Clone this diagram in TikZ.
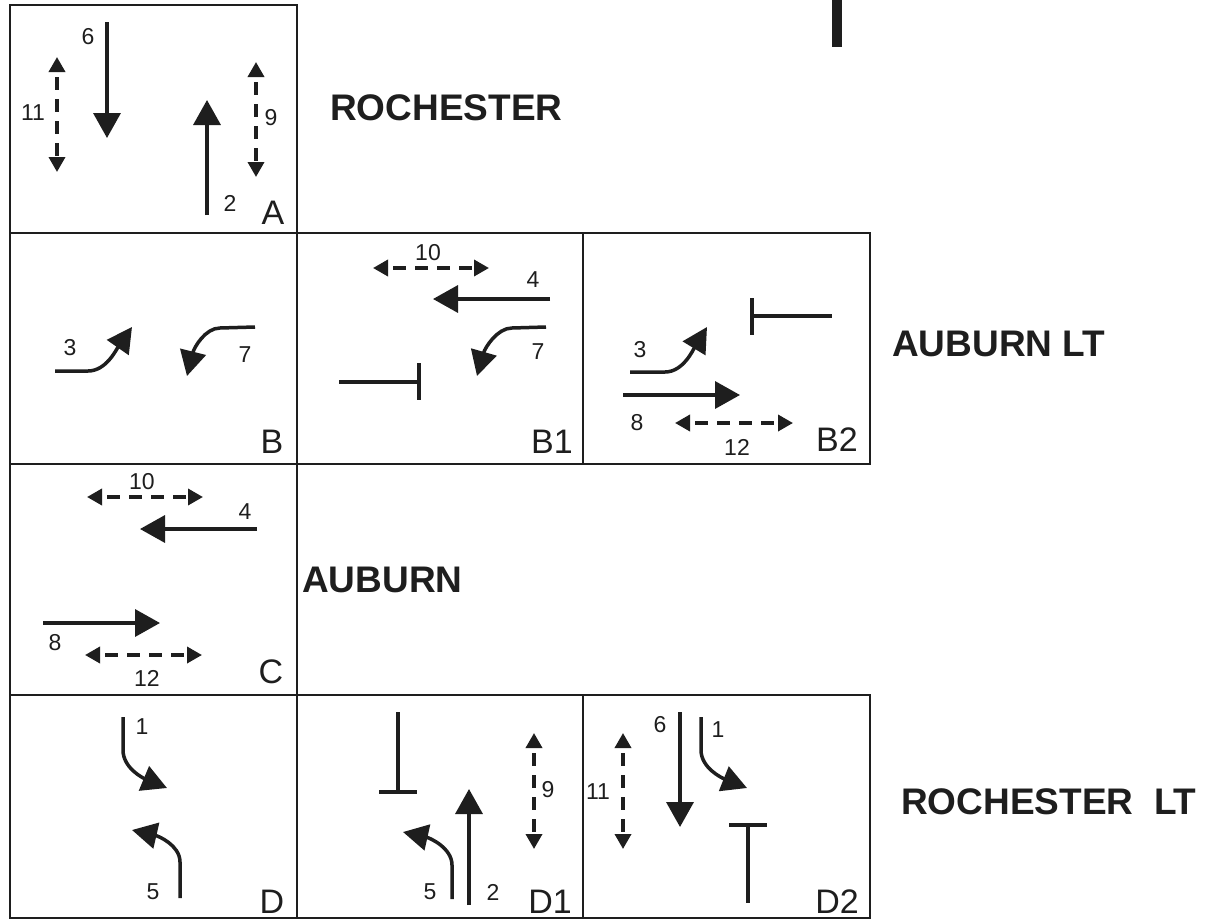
\documentclass[tikz,border=0pt]{standalone}
\usepackage{fontspec}
\setmainfont{Liberation Sans}
\usetikzlibrary{arrows.meta}
\definecolor{ink}{RGB}{30,30,30}
\tikzset{
 panel/.style={draw=ink, line width=1.8pt},
 mv/.style={draw=ink, line width=3.5pt, -{Triangle[width=27pt,length=25pt]}},
 turn/.style={draw=ink, line width=3.5pt, -{Triangle[width=26pt,length=25pt]}},
 ped/.style={draw=ink, line width=3.5pt, dash pattern=on 13pt off 9pt, dash phase=16pt,
   {Triangle[width=16pt,length=15pt]}-{Triangle[width=16pt,length=15pt]}},
 stopbar/.style={draw=ink, line width=3.8pt},
 num/.style={text=ink, inner sep=0pt, font=\fontsize{23}{23}\selectfont},
 plabel/.style={text=ink, inner sep=0pt, font=\fontsize{34}{34}\selectfont},
 title/.style={text=ink, inner sep=0pt, anchor=west, font=\fontsize{37}{37}\selectfont\bfseries},
}
\begin{document}
\begin{tikzpicture}[x=1pt,y=-1pt]
\useasboundingbox (0,0) rectangle (1213,921);
\fill[white] (0,0) rectangle (1213,921);
% top bar
\fill[ink] (832,0) rectangle (842,47);
% panels
\draw[panel] (10,5) rectangle (297,233);
\draw[panel] (10,233) rectangle (297,464);
\draw[panel] (297,233) rectangle (583,464);
\draw[panel] (583,233) rectangle (870,464);
\draw[panel] (10,464) rectangle (297,695);
\draw[panel] (10,695) rectangle (297,918);
\draw[panel] (297,695) rectangle (583,918);
\draw[panel] (583,695) rectangle (870,918);
% titles
\node[title] (tRoch) at (330,108) {ROCHESTER};
\node[title] (tAubLT) at (892,344) {AUBURN LT};
\node[title] (tAub) at (302,580) {AUBURN};
\node[title] (tRochLT) at (901,802) {ROCHESTER\ \ LT};
% Panel A
\draw[mv] (107,22) -- (107,138);
\node[num] (a6) at (88,37) {6};
\draw[mv] (207,215) -- (207,100);
\node[num] (a2) at (230,203) {2};
\draw[ped] (57,57) -- (57,172);
\node[num] (a11) at (33,113) {11};
\draw[ped] (256,62) -- (256,177);
\node[num] (a9) at (271,118) {9};
\node[plabel] (la) at (273,213) {A};
% Panel B
\draw[turn] (55,371) -- (88,371) .. controls (106,371) and (116,350) .. (132,327);
\node[num] (b3) at (70,348) {3};
\draw[turn] (255,327) -- (220,328) .. controls (205,328) and (194,348) .. (187,376);
\node[num] (b7) at (245,355) {7};
\node[plabel] (lb) at (272,442) {B};
% Panel B1
\draw[ped] (373,268) -- (489,268);
\node[num] (b1n10) at (428,253) {10};
\draw[mv] (550,299) -- (433,299);
\node[num] (b1n4) at (533,280) {4};
\draw[turn] (546,327) -- (512,328) .. controls (497,328) and (485,348) .. (477,376);
\node[num] (b1n7) at (538,352) {7};
\draw[stopbar] (339,382) -- (419,382);
\draw[stopbar] (419,363) -- (419,400);
\node[plabel] (lb1) at (552,442) {B1};
% Panel B2
\draw[stopbar] (752,298) -- (752,335);
\draw[stopbar] (752,316) -- (832,316);
\draw[turn] (630,372) -- (665,372) .. controls (683,372) and (693,350) .. (707,327);
\node[num] (b2n3) at (640,350) {3};
\draw[mv] (623,395) -- (740,395);
\node[num] (b2n8) at (637,423) {8};
\draw[ped] (675,423) -- (793,423);
\node[num] (b2n12) at (737,447) {12};
\node[plabel] (lb2) at (837,440) {B2};
% Panel C
\draw[ped] (87,497) -- (203,497);
\node[num] (c10) at (142,482) {10};
\draw[mv] (257,529) -- (140,529);
\node[num] (c4) at (245,512) {4};
\draw[mv] (43,623) -- (160,623);
\node[num] (c8) at (55,643) {8};
\draw[ped] (85,655) -- (202,655);
\node[num] (c12) at (147,678) {12};
\node[plabel] (lc) at (271,672) {C};
% Panel D
\draw[turn] (123,717) -- (123,750) .. controls (123,768) and (143,778) .. (167,788);
\node[num] (d1) at (142,727) {1};
\draw[turn] (180,898) -- (180,862) .. controls (180,845) and (158,836) .. (132,830);
\node[num] (d5) at (153,892) {5};
\node[plabel] (ld) at (272,902) {D};
% Panel D1
\draw[stopbar] (398,712) -- (398,792);
\draw[stopbar] (379,792) -- (417,792);
\draw[turn] (452,899) -- (452,865) .. controls (452,848) and (430,838) .. (403,832);
\node[num] (d1n5) at (430,892) {5};
\draw[mv] (469,905) -- (469,789);
\node[num] (d1n2) at (493,892) {2};
\draw[ped] (534,733) -- (534,849);
\node[num] (d1n9) at (548,790) {9};
\node[plabel] (ld1) at (550,902) {D1};
% Panel D2
\draw[ped] (623,733) -- (623,849);
\node[num] (d2n11) at (598,792) {11};
\draw[mv] (680,712) -- (680,827);
\node[num] (d2n6) at (660,725) {6};
\draw[turn] (701,717) -- (701,750) .. controls (701,768) and (722,778) .. (747,788);
\node[num] (d2n1) at (718,730) {1};
\draw[stopbar] (729,825) -- (767,825);
\draw[stopbar] (748,825) -- (748,903);
\node[plabel] (ld2) at (837,902) {D2};
\end{tikzpicture}
\end{document}
